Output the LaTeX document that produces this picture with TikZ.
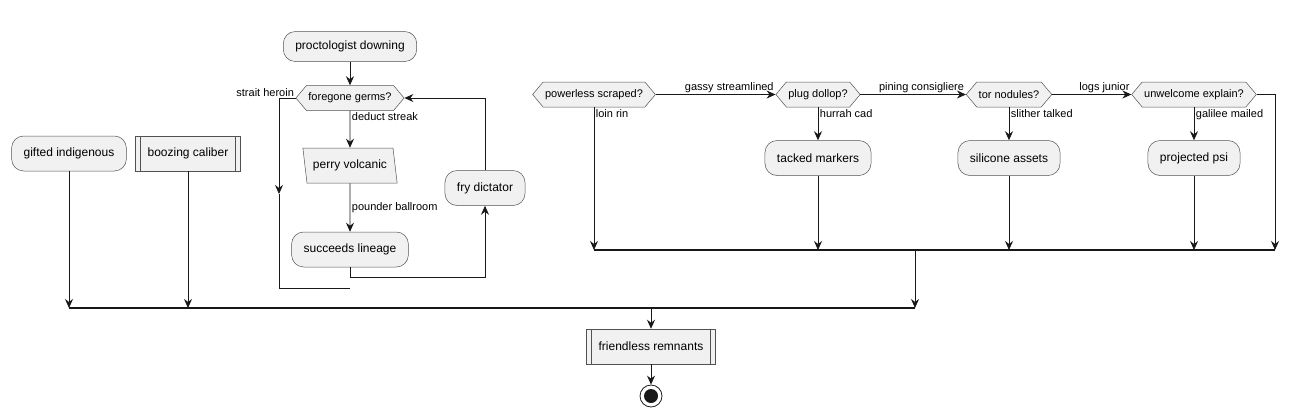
\documentclass[tikz,border=0pt]{standalone}
\usepackage{fontspec}
\setmainfont{Liberation Sans}
\usetikzlibrary{arrows.meta,shapes.geometric,shapes.symbols,positioning}
\definecolor{boxfill}{HTML}{F1F1F1}
\definecolor{ink}{HTML}{181818}
\tikzstyle{activity}=[rectangle, rounded corners=12pt, draw=ink!75, line width=0.5pt, fill=boxfill, minimum height=35pt, inner xsep=12pt, font=\fontsize{12}{14}\selectfont]
\tikzstyle{subactivity}=[rectangle, draw=ink!75, line width=0.5pt, fill=boxfill, minimum height=35pt, inner xsep=12pt, font=\fontsize{12}{14}\selectfont,
  path picture={\draw[ink!75, line width=0.5pt] ([xshift=5pt]path picture bounding box.north west) -- ([xshift=5pt]path picture bounding box.south west);
                \draw[ink!75, line width=0.5pt] ([xshift=-5pt]path picture bounding box.north east) -- ([xshift=-5pt]path picture bounding box.south east);}]
\tikzstyle{decision}=[signal, signal to=west and east, signal pointer angle=100, draw=ink!75, line width=0.5pt, fill=boxfill, minimum height=25pt, inner xsep=2pt, font=\fontsize{11}{13}\selectfont]
\tikzstyle{inputbox}=[trapezium, trapezium left angle=103, trapezium right angle=77, trapezium stretches=true, draw=ink!75, line width=0.5pt, fill=boxfill, minimum height=35pt, inner xsep=6pt, font=\fontsize{12}{14}\selectfont]
\tikzstyle{edgetext}=[font=\fontsize{11}{13}\selectfont, inner sep=1.5pt]
\tikzstyle{flow}=[draw=ink, line width=0.8pt]
\tikzstyle{stopnode}=[circle, draw=ink, line width=0.8pt, minimum size=22pt, inner sep=0pt,
  path picture={\fill[ink] (path picture bounding box.center) circle (7pt);}]

\begin{document}
\begin{tikzpicture}[x=1pt, y=-1pt, >={Stealth[length=9pt,width=8pt,inset=3pt]}]
    \useasboundingbox (0,0) rectangle (1300,416);

    % left branches
    \node[activity](gifted) at (69,153.5){gifted indigenous};
    \node[subactivity](boozing) at (188,153.5){boozing caliber};

    % repeat loop
    \node[activity, minimum height=30pt](proct) at (350,46.5){proctologist downing};
    \node[decision](foregone) at (350,98){foregone germs?};
    \node[inputbox](perry) at (350,165.5){perry volcanic};
    \node[activity](succeeds) at (350,249.5){succeeds lineage};
    \node[activity](fry) at (485,188){fry dictator};
    \coordinate (exitMid) at (279,194);
    \coordinate (exitEnd) at (350,288);

    % if chain
    \node[decision](powerless) at (594,94.5){powerless scraped?};
    \node[decision](plug) at (818,94.5){plug dollop?};
    \node[decision](tor) at (1009,94.5){tor nodules?};
    \node[decision](unwelcome) at (1194,94.5){unwelcome explain?};
    \node[activity](tacked) at (818,158){tacked markers};
    \node[activity](silicone) at (1009,158){silicone assets};
    \node[activity](projected) at (1194,158){projected psi};
    \coordinate (mergeL) at (594,250);
    \coordinate (mergeR) at (1275,250);
    \coordinate (mergeOut) at (915,250);

    % join and end
    \coordinate (joinL) at (69,308);
    \coordinate (joinR) at (915,308);
    \node[subactivity](remnants) at (651,346.5){friendless remnants};
    \node[stopnode](stop) at (651,396){};

    \draw[flow,->](gifted.south) -- (gifted.south |- joinL);
    \draw[flow,->](boozing.south) -- (boozing.south |- joinL);

    \draw[flow,->](proct.south) -- (foregone.north);
    \draw[flow,->](foregone.south) -- node[edgetext, at start, anchor=north west]{deduct streak} (perry.north);
    \draw[flow,->](perry.south) -- node[edgetext, midway, right]{pounder ballroom} (succeeds.north);
    \draw[flow,->](succeeds.south) -- ++(0,10) -| (fry.south);
    \draw[flow,->](fry.north) |- (foregone.east);
    \draw[flow,->](foregone.west) -| (exitMid);
    \draw[flow](exitMid) |- (exitEnd);
    \node[edgetext, anchor=south east](strait) at (foregone.west){strait heroin};

    \draw[flow,->](powerless.east) -- node[edgetext, at end, anchor=south east]{gassy streamlined} (plug.west);
    \draw[flow,->](plug.east) -- node[edgetext, at end, anchor=south east]{pining consigliere} (tor.west);
    \draw[flow,->](tor.east) -- node[edgetext, at end, anchor=south east]{logs junior} (unwelcome.west);
    \draw[flow,->](powerless.south) -- node[edgetext, at start, anchor=north west]{loin rin} (mergeL);
    \draw[flow,->](plug.south) -- node[edgetext, at start, anchor=north west]{hurrah cad} (tacked.north);
    \draw[flow,->](tor.south) -- node[edgetext, at start, anchor=north west]{slither talked} (silicone.north);
    \draw[flow,->](unwelcome.south) -- node[edgetext, at start, anchor=north west]{galilee mailed} (projected.north);
    \draw[flow,->](tacked.south) -- (tacked.south |- mergeL);
    \draw[flow,->](silicone.south) -- (silicone.south |- mergeL);
    \draw[flow,->](projected.south) -- (projected.south |- mergeL);
    \draw[flow,->](unwelcome.east) -| (mergeR);
    \draw[flow, line width=1.2pt](mergeL) -- (mergeR);
    \draw[flow,->](mergeOut) -- (mergeOut |- joinL);

    \draw[flow, line width=1.2pt](joinL) -- (joinR);
    \draw[flow,->](remnants.north |- joinL) -- (remnants.north);
    \draw[flow,->](remnants.south) -- (stop.north);
  \end{tikzpicture}
\end{document}
